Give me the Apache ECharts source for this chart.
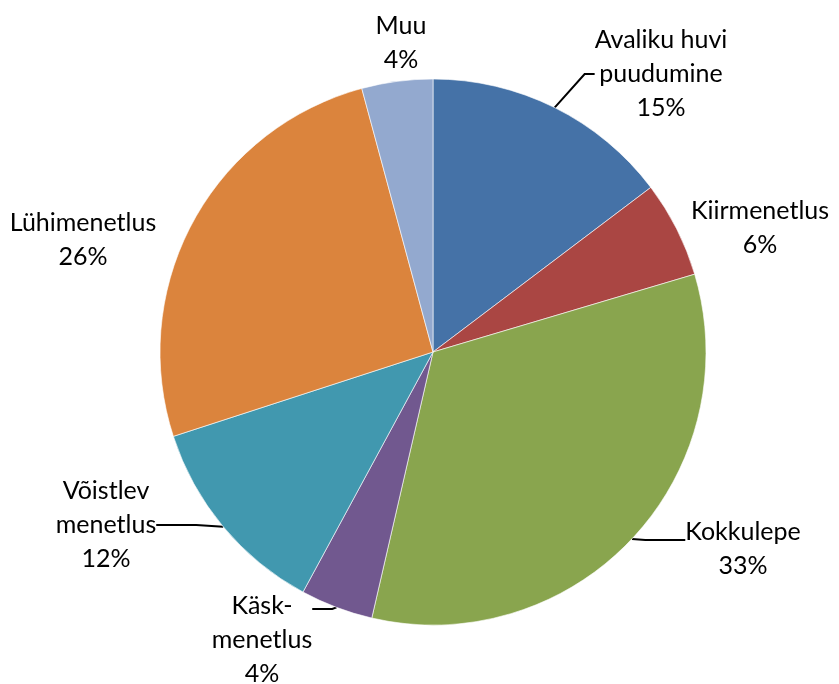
<!DOCTYPE html>
<html><head><meta charset="utf-8">
<script src="https://cdn.jsdelivr.net/npm/echarts@6/dist/echarts.min.js"></script>
<style>html,body{margin:0;padding:0;background:#fff}#c{width:839px;height:684px}</style>
</head><body><div id="c"></div>
<script>
const categories = ["Avaliku huvi\npuudumine", "Kiirmenetlus", "Kokkulepe", "Käsk-\nmenetlus", "Võistlev\nmenetlus", "Lühimenetlus", "Muu"];
const values = [14.7, 5.7, 33.2, 4.3, 12.1, 25.8, 4.2];

const colors = ["#4572A7", "#AA4643", "#89A54E", "#71588F", "#4198AF", "#DB843D", "#93A9CF"];
const labelPos = [[661, 74], [760, 228], [743, 540], [262, 609], [106, 525], [83, 240], [401, 43]];
const spacer = [0, 0, 18, 62, 0, 0, 0];
const showLine = [true, false, true, true, true, false, false];
const lineLen2 = [10, 0, 40, 20, 40, 0, 0];

const rich = {};
spacer.forEach(h => { if (h) rich['s' + h] = {fontSize: 1, lineHeight: h}; });

const chart = echarts.init(document.getElementById('c'), null, {renderer: 'canvas'});
chart.setOption({
  animation: false,
  color: colors,
  series: [{
    type: 'pie',
    center: [433, 352],
    radius: 273,
    startAngle: 90,
    clockwise: true,
    percentPrecision: 0,
    itemStyle: {borderColor: '#ffffff', borderWidth: 0.6},
    label: {
      show: true,
      position: 'outside',
      formatter: function (p) {
        const h = spacer[p.dataIndex];
        const txt = p.name + '\n' + p.percent + '%';
        return h ? '{s' + h + '|\u00a0}\n' + txt : txt;
      },
      fontFamily: 'Lato',
      fontSize: 25,
      lineHeight: 34,
      color: '#000',
      align: 'center',
      rich: rich
    },
    labelLine: {show: true, length: 8, length2: 12, lineStyle: {color: '#000', width: 2}},
    labelLayout: function (p) {
      const pos = labelPos[p.dataIndex];
      return {x: pos[0], y: pos[1], align: 'center', verticalAlign: 'middle'};
    },
    data: categories.map((n, i) => ({
      name: n, value: values[i],
      labelLine: {show: showLine[i], length2: lineLen2[i]}
    }))
  }]
});
</script></body></html>
